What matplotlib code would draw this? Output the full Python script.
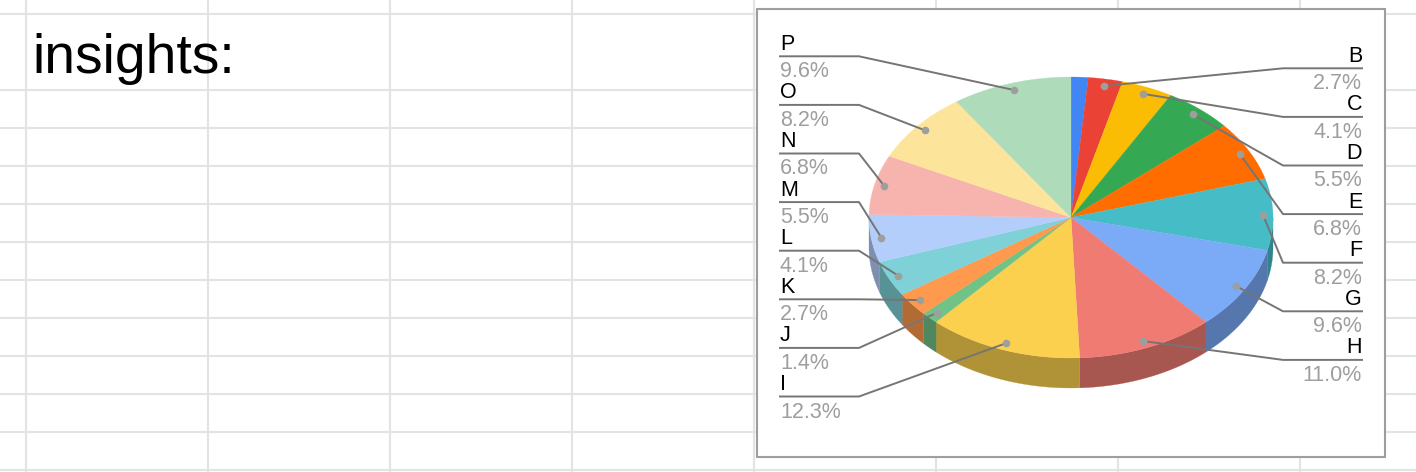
import numpy as np
from matplotlib import pyplot as plt
from matplotlib.colors import to_rgb
from matplotlib.patches import Polygon, Rectangle

names = ['A', 'B', 'C', 'D', 'E', 'F', 'G', 'H', 'I', 'J', 'K', 'L', 'M', 'N', 'O', 'P']
values = [1, 2, 3, 4, 5, 6, 7, 8, 9, 1, 2, 3, 4, 5, 6, 7]
colors = ['#4285F4', '#EA4335', '#FBBC04', '#34A853', '#FF6D01', '#46BDC6', '#7BAAF7', '#F07B72',
          '#FCD04F', '#71C287', '#FF994D', '#7ED1D7', '#B3CEFB', '#F7B4AE', '#FDE49B', '#AEDCBA']
right_names = ['B', 'C', 'D', 'E', 'F', 'G', 'H']
left_names = ['P', 'O', 'N', 'M', 'L', 'K', 'J', 'I']
title = 'insights:'

plt.rcParams['font.family'] = ['Liberation Sans', 'DejaVu Sans']

# one axes over the whole figure, units are pixels
fig = plt.figure(figsize=(14.16, 4.72), dpi=100)
ax = fig.add_axes([0, 0, 1, 1])
ax.set_xlim(0, 1416)
ax.set_ylim(472, 0)
ax.axis('off')

# spreadsheet grid
grid_color = '#E2E3E3'
for x in np.arange(26, 1416, 182):
    ax.plot([x, x], [0, 472], color=grid_color, lw=1.5, zorder=1)
for y in [14] + list(np.arange(90, 472, 38)):
    ax.plot([0, 1416], [y, y], color=grid_color, lw=1.5, zorder=1)

ax.text(32, 73, title, fontsize=39.7, color='black', ha='left', va='baseline', zorder=2)

# chart box
ax.add_patch(Rectangle((757, 9), 628, 448, facecolor='white', edgecolor='#9E9E9E', lw=1.5, zorder=3))

cx, cy = 1071, 217.5
rx, ry = 202, 140.5
depth = 30


def ellipse_xy(angle, r=1.0):
    # angle in radians, clockwise from the top
    return cx + rx * r * np.sin(angle), cy - ry * r * np.cos(angle)


total = sum(values)
edges = 2 * np.pi * np.cumsum([0] + values) / total
mids = (edges[:-1] + edges[1:]) / 2

# side wall, only the front half of the ellipse shows
for i, color in enumerate(colors):
    a0 = max(edges[i], np.pi / 2)
    a1 = min(edges[i + 1], 3 * np.pi / 2)
    if a1 <= a0:
        continue
    t = np.linspace(a0, a1, 60)
    x, y = ellipse_xy(t)
    pts = np.vstack([np.column_stack([x, y]), np.column_stack([x[::-1], y[::-1] + depth])])
    dark = tuple(c * 0.7 for c in to_rgb(color))
    ax.add_patch(Polygon(pts, closed=True, facecolor=dark, edgecolor=dark, lw=0.2, zorder=4))

# top face
for i, color in enumerate(colors):
    t = np.linspace(edges[i], edges[i + 1], 100)
    x, y = ellipse_xy(t)
    pts = np.vstack([[cx, cy], np.column_stack([x, y])])
    ax.add_patch(Polygon(pts, closed=True, facecolor=color, edgecolor=color, lw=0.2, zorder=5))

# leader lines and labels
line_color = '#757575'
label_gray = '#9E9E9E'
row_step = 48.6


def draw_label(name, line_y, text_x, knee_x, ha):
    i = names.index(name)
    dot_x, dot_y = ellipse_xy(mids[i], 0.95)
    ax.plot([text_x, knee_x, dot_x], [line_y, line_y, dot_y], color=line_color, lw=1.4, zorder=6)
    ax.plot(dot_x, dot_y, 'o', color=label_gray, ms=5.5, mew=0, zorder=7)
    ax.text(text_x, line_y - 6.5, name, fontsize=15.5, color='black', ha=ha, va='baseline', zorder=7)
    pct = f'{values[i] / total * 100:.1f}%'
    ax.text(text_x, line_y + 21, pct, fontsize=15.5, color=label_gray, ha=ha, va='baseline', zorder=7)


for k, name in enumerate(left_names):
    draw_label(name, 56.3 + k * row_step, 780, 859, 'left')
for k, name in enumerate(right_names):
    draw_label(name, 68.3 + k * row_step, 1362, 1283, 'right')

fig.savefig('out.png', dpi=100, facecolor='white')
